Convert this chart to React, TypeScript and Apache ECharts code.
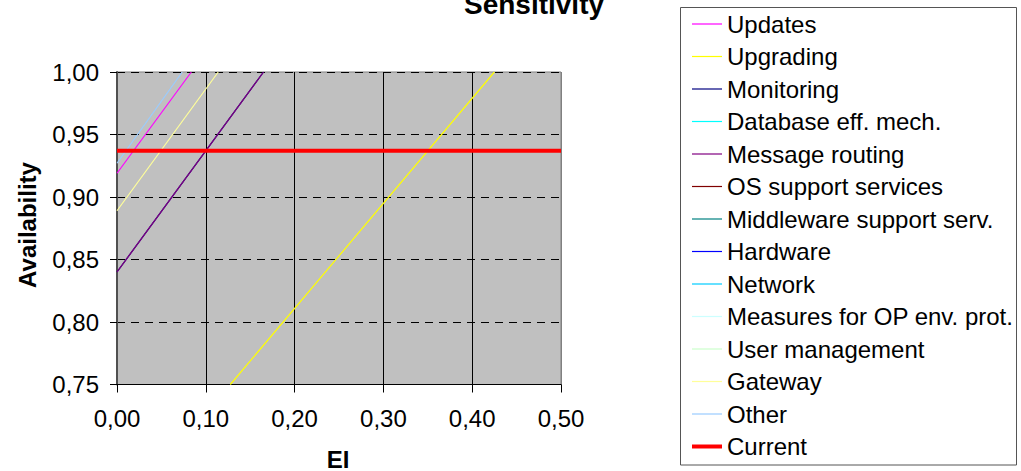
import React, { useEffect, useRef } from "react";
import * as echarts from "echarts";

// Series names (legend order) and colours
const seriesNames = [
  "Updates",
  "Upgrading",
  "Monitoring",
  "Database eff. mech.",
  "Message routing",
  "OS support services",
  "Middleware support serv.",
  "Hardware",
  "Network",
  "Measures for OP env. prot.",
  "User management",
  "Gateway",
  "Other",
  "Current",
];
const seriesColors = [
  "#FF00FF",
  "#FFFF00",
  "#000080",
  "#00FFFF",
  "#800080",
  "#800000",
  "#008080",
  "#0000FF",
  "#00CCFF",
  "#CCFFFF",
  "#CCFFCC",
  "#FFFF99",
  "#99CCFF",
  "#FF0000",
];

// EI (x) and Availability (y) values per series
const updatesEI = [0, 0.0837];
const updatesAvail = [0.919, 1.0];
const upgradingEI = [0.1276, 0.425];
const upgradingAvail = [0.75, 1.0];
const monitoringEI = [0, 0.165];
const monitoringAvail = [0.84, 1.0];
const databaseEI: number[] = [];
const databaseAvail: number[] = [];
const messageEI = [0, 0.165];
const messageAvail = [0.84, 1.0];
const osEI: number[] = [];
const osAvail: number[] = [];
const middlewareEI: number[] = [];
const middlewareAvail: number[] = [];
const hardwareEI: number[] = [];
const hardwareAvail: number[] = [];
const networkEI: number[] = [];
const networkAvail: number[] = [];
const measuresEI: number[] = [];
const measuresAvail: number[] = [];
const userEI: number[] = [];
const userAvail: number[] = [];
const gatewayEI = [0, 0.114];
const gatewayAvail = [0.889, 1.0];
const otherEI = [0, 0.0735];
const otherAvail = [0.927, 1.0];
const currentEI = [0, 0.5];
const currentAvail = [0.937, 0.937];

const seriesEI = [
  updatesEI, upgradingEI, monitoringEI, databaseEI, messageEI, osEI, middlewareEI,
  hardwareEI, networkEI, measuresEI, userEI, gatewayEI, otherEI, currentEI,
];
const seriesAvail = [
  updatesAvail, upgradingAvail, monitoringAvail, databaseAvail, messageAvail, osAvail,
  middlewareAvail, hardwareAvail, networkAvail, measuresAvail, userAvail, gatewayAvail,
  otherAvail, currentAvail,
];

const xTicks = [0, 0.1, 0.2, 0.3, 0.4, 0.5];
const yTicks = [0.75, 0.8, 0.85, 0.9, 0.95, 1.0];

const FONT = 'Arial, "Liberation Sans", sans-serif';
const fmt = (v: number) => v.toFixed(2).replace(".", ",");

export default function App() {
  const ref = useRef<HTMLDivElement>(null);
  useEffect(() => {
    if (!ref.current) return;
    const chart = echarts.init(ref.current, null, { renderer: "svg" });
    const series = seriesNames.map((name, i) => ({
      name,
      type: "line",
      data: seriesEI[i].map((x, j) => [x, seriesAvail[i][j]]),
      symbol: "none",
      showSymbol: false,
      clip: true,
      color: seriesColors[i],
      lineStyle: { color: seriesColors[i], width: name === "Current" ? 4 : 1.2 },
      z: 3,
    }));
    chart.setOption({
      animation: false,
      backgroundColor: "#ffffff",
      textStyle: { fontFamily: FONT },
      grid: {
        left: 117,
        top: 72,
        width: 444,
        height: 312.5,
        show: true,
        backgroundColor: "#C0C0C0",
        borderColor: "#808080",
        borderWidth: 1,
      },
      xAxis: {
        type: "value",
        min: xTicks[0],
        max: xTicks[xTicks.length - 1],
        interval: 0.1,
        axisLine: { show: true, onZero: false, lineStyle: { color: "#000", width: 1 } },
        axisTick: { show: true, length: 8, lineStyle: { color: "#000" } },
        axisLabel: {
          formatter: fmt,
          color: "#000",
          fontSize: 24,
          fontFamily: FONT,
          margin: 22,
        },
        splitLine: {
          show: true,
          lineStyle: {
            color: ["#000", "#000", "#000", "#000", "#000", "#808080"],
            width: 1,
            type: "solid",
          },
        },
      },
      yAxis: {
        type: "value",
        min: yTicks[0],
        max: yTicks[yTicks.length - 1],
        interval: 0.05,
        axisLine: { show: true, onZero: false, lineStyle: { color: "#505050", width: 2 } },
        axisTick: { show: true, length: 7, lineStyle: { color: "#000" } },
        axisLabel: {
          formatter: fmt,
          color: "#000",
          fontSize: 24,
          fontFamily: FONT,
          margin: 18,
          padding: [4, 0, 0, 0],
        },
        splitLine: {
          show: true,
          lineStyle: { color: "#000", width: 1, type: [8, 6] },
        },
      },
      legend: {
        orient: "vertical",
        left: 690,
        top: 12,
        padding: 0,
        itemWidth: 30,
        itemHeight: 16,
        itemGap: 8.5,
        selectedMode: false,
        data: seriesNames.map((name) => ({
          name,
          lineStyle: { width: name === "Current" ? 4 : 1.2 },
        })),
        itemStyle: { opacity: 0, borderWidth: 0, color: "transparent" },
        textStyle: { color: "#000", fontSize: 24, fontFamily: FONT },
      },
      graphic: [
        {
          type: "rect",
          shape: { x: 680.5, y: 7.5, width: 336, height: 457.5 },
          style: { fill: "none", stroke: "#555", lineWidth: 1 },
          z: 0,
        },
        {
          type: "text",
          x: 534,
          y: 4,
          style: {
            text: "Sensitivity",
            font: `bold 28px ${FONT}`,
            fill: "#000",
            align: "center",
            verticalAlign: "middle",
          },
        },
        {
          type: "text",
          x: 27.5,
          y: 225,
          rotation: Math.PI / 2,
          style: {
            text: "Availability",
            font: `bold 24px ${FONT}`,
            fill: "#000",
            align: "center",
            verticalAlign: "middle",
          },
        },
        {
          type: "text",
          x: 338,
          y: 459,
          style: {
            text: "EI",
            font: `bold 24px ${FONT}`,
            fill: "#000",
            align: "center",
            verticalAlign: "middle",
          },
        },
      ],
      series,
    });
    return () => chart.dispose();
  }, []);
  return (
    <div
      ref={ref}
      style={{ position: "absolute", left: 0, top: 0, width: 1021, height: 471 }}
    />
  );
}
